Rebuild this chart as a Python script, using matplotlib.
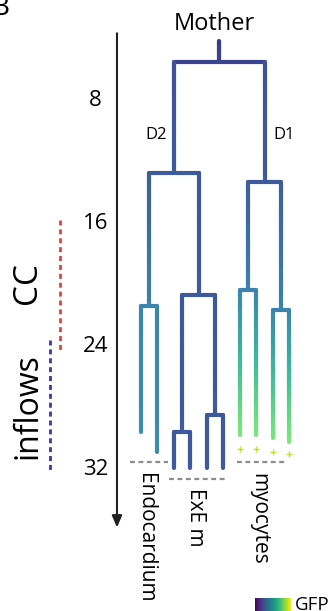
import numpy as np
import matplotlib
matplotlib.use("Agg")
import matplotlib.pyplot as plt
from matplotlib.collections import LineCollection
from matplotlib.colors import LinearSegmentedColormap

plt.rcParams['font.family'] = ['Open Sans', 'DejaVu Sans']

# ---------------- data ----------------
cell_ids    = ['M', 'D2', 'D1', 'En', 'Ex', 'My1', 'My2',
               'En1', 'En2', 'Ex1', 'Ex2', 'Ex11', 'Ex12', 'Ex21', 'Ex22',
               'My11', 'My12', 'My21', 'My22']
cell_parent = [None, 'M', 'M', 'D2', 'D2', 'D1', 'D1',
               'En', 'En', 'Ex', 'Ex', 'Ex1', 'Ex1', 'Ex2', 'Ex2',
               'My1', 'My1', 'My2', 'My2']
cell_end_h  = [5.5, 12.7, 13.3, 21.4, 20.65, 20.3, 21.6,
               29.6, 30.9, 29.6, 28.5, 31.9, 31.9, 31.9, 31.9,
               29.8, 29.8, 30.0, 30.2]
gfp_start   = [0.12, 0.22, 0.22, 0.25, 0.23, 0.25, 0.25,
               0.41, 0.41, 0.23, 0.23, 0.23, 0.23, 0.23, 0.23,
               0.40, 0.40, 0.40, 0.40]
gfp_end     = [0.16, 0.24, 0.24, 0.40, 0.24, 0.39, 0.40,
               0.44, 0.44, 0.24, 0.24, 0.24, 0.24, 0.24, 0.24,
               0.82, 0.82, 0.81, 0.82]
mother_start_h = 4.1

gfp_plus_cells = ['My11', 'My12', 'My21', 'My22']
gfp_plus_h     = [30.7, 30.7, 30.9, 31.0]

time_ticks = [8, 16, 24, 32]
group_labels = ['Endocardium', 'ExE m', 'myocytes']

# ---------------- colormap ----------------
cmap = LinearSegmentedColormap.from_list('gfp', [
    (0.00, '#440154'), (0.12, '#3a3a8c'), (0.24, '#3d5a9c'),
    (0.42, '#3b88b0'), (0.60, '#3cb89a'), (0.82, '#78e878'),
    (1.00, '#fde725')])

# ---------------- tree layout ----------------
children = {c: [] for c in cell_ids}
for c, p in zip(cell_ids, cell_parent):
    if p is not None:
        children[p].append(c)
end_of = dict(zip(cell_ids, cell_end_h))
g0 = dict(zip(cell_ids, gfp_start))
g1 = dict(zip(cell_ids, gfp_end))
parent_of = dict(zip(cell_ids, cell_parent))

xpos = {}
leaf_counter = [0]
def layout(c):
    if not children[c]:
        xpos[c] = leaf_counter[0]
        leaf_counter[0] += 1
    else:
        for k in children[c]:
            layout(k)
        xpos[c] = np.mean([xpos[k] for k in children[c]])
layout('M')

fig = plt.figure(figsize=(3.35, 6.11), dpi=100)
ax = fig.add_axes([0, 0, 1, 1])
ax.set_xlim(-8.545, 11.758)
ax.set_ylim(41.24, 1.433)
ax.axis('off')

segs, cols = [], []
LW = 3.0
for c in cell_ids:
    t0 = mother_start_h if parent_of[c] is None else end_of[parent_of[c]]
    t1 = end_of[c]
    ts = np.linspace(t0, t1, 40)
    vs = np.linspace(g0[c], g1[c], 40)
    for i in range(len(ts) - 1):
        segs.append([(xpos[c], ts[i]), (xpos[c], ts[i + 1])])
        cols.append(cmap((vs[i] + vs[i + 1]) / 2))
    if children[c]:
        xs = [xpos[k] for k in children[c]]
        segs.append([(min(xs), t1), (max(xs), t1)])
        cols.append(cmap(g1[c]))
lc = LineCollection(segs, colors=cols, linewidths=LW, capstyle='round', joinstyle='round')
ax.add_collection(lc)

# GFP+ markers
ax.plot([xpos[c] for c in gfp_plus_cells], gfp_plus_h, linestyle='none', marker='+',
        color='#c5e030', markersize=5, markeredgewidth=1.0)

# labels
ax.text(xpos['M'] - 0.3, 3.0, 'Mother', ha='center', va='center', fontsize=17)
ax.text(0.91, 10.2, 'D2', ha='center', va='center', fontsize=12)
ax.text(8.67, 10.2, 'D1', ha='center', va='center', fontsize=12)

# time arrow
ax_x = -1.455
ax.annotate('', xy=(ax_x, 35.8), xytext=(ax_x, 3.6),
            arrowprops=dict(arrowstyle='-|>,head_length=0.7,head_width=0.3',
                            lw=1.5, color='#231f20', shrinkA=0, shrinkB=0))
for t in time_ticks:
    ax.text(-2.75, t, str(t), ha='center', va='center', fontsize=16)

# gray dashed group lines
dash_kw = dict(color='#8c8c8c', lw=1.6, dashes=(2.2, 1.6))
ax.plot([-0.67, 1.64], [31.53, 31.53], **dash_kw)
ax.plot([1.70, 5.27], [32.64, 32.64], **dash_kw)
ax.plot([5.82, 8.73], [31.53, 31.53], **dash_kw)

ax.text(0.3, 32.25, group_labels[0], rotation=-90, ha='center', va='top', fontsize=15)
ax.text(3.33, 33.2, group_labels[1], rotation=-90, ha='center', va='top', fontsize=15)
ax.text(7.15, 32.25, group_labels[2], rotation=-90, ha='center', va='top', fontsize=15)

# left side annotations
ax.plot([-4.91, -4.91], [15.77, 24.43], color='#e8413c', lw=2.0, dashes=(1.8, 1.4))
ax.plot([-5.52, -5.52], [23.58, 32.25], color='#3a3aa0', lw=2.0, dashes=(1.8, 1.4))
ax.text(-6.85, 19.87, 'CC', rotation=90, ha='center', va='center', fontsize=24)
ax.text(-6.85, 27.9, 'inflows', rotation=90, ha='center', va='center', fontsize=23)

# panel letter (cropped)
fig.text(9 / 335, 1 - 8 / 611, 'B', ha='right', va='center', fontsize=20)

# colour bar swatch
cax = fig.add_axes([255 / 335, 0, 36 / 335, 13 / 611])
cax.imshow(np.linspace(0, 1, 256)[None, :], aspect='auto', cmap='viridis')
cax.axis('off')
fig.text(295 / 335, 6 / 611, 'GFP', ha='left', va='center', fontsize=13.5)

fig.savefig('out.png', dpi=100)
